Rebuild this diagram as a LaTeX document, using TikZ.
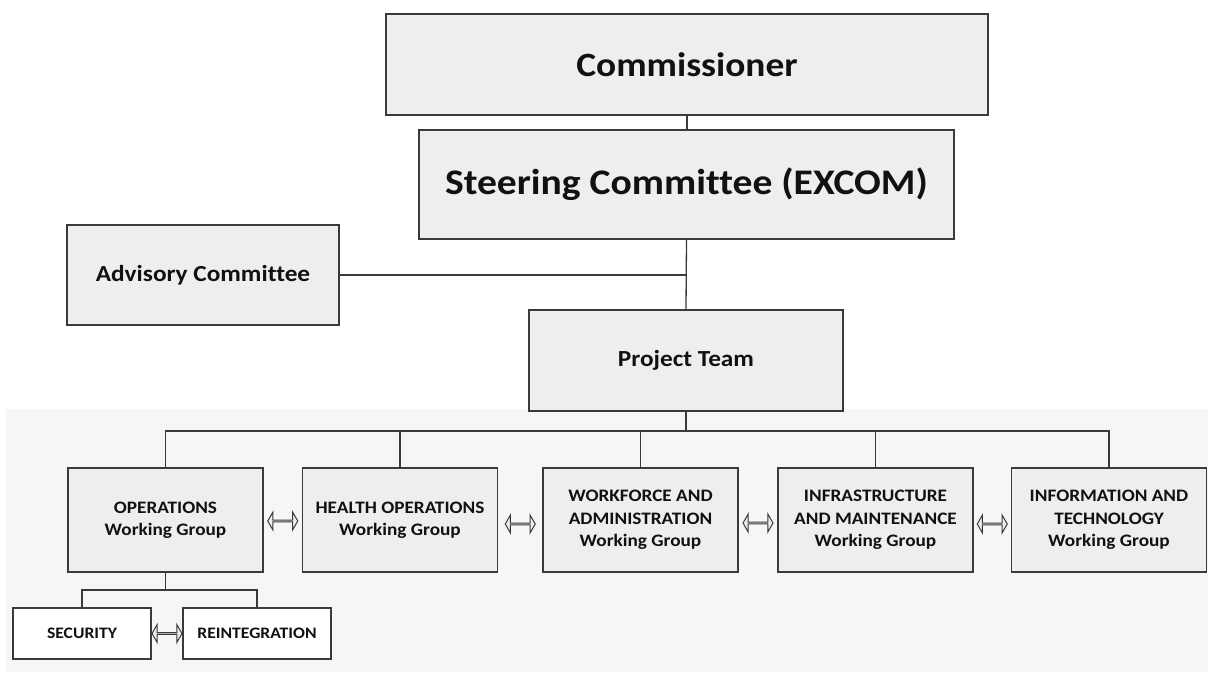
\documentclass[tikz,border=0pt]{standalone}
\usepackage{fontspec}
\setmainfont{Carlito}[FakeStretch=1.1, Ligatures=CommonOff]
\usetikzlibrary{calc,shapes.arrows}
\definecolor{boxfill}{HTML}{EEEEEE}
\definecolor{bgfill}{HTML}{F6F6F6}
\definecolor{linec}{HTML}{3A3A3A}
\definecolor{txt}{HTML}{111111}
\tikzset{
  orgbox/.style={draw=linec, line width=1.3pt, fill=boxfill, inner sep=0pt, align=center, text=txt},
  wgbox/.style={orgbox, minimum width=195pt, minimum height=104pt, font=\bfseries\fontsize{17.5}{22.5}\selectfont},
  subbox/.style={orgbox, fill=white, minimum height=51pt, font=\bfseries\fontsize{16}{20}\selectfont},
  conn/.style={draw=linec, line width=1.3pt},
  dblarrow/.style={double arrow, draw=linec, line width=1pt, fill=boxfill, minimum height=30pt, minimum width=18pt, double arrow head extend=4.5pt, double arrow head indent=0pt, double arrow tip angle=120, inner sep=0pt}
}
\begin{document}
\begin{tikzpicture}[x=1pt,y=-1pt]
\useasboundingbox (0,0) rectangle (1208,675);
\fill[bgfill] (6,409) rectangle (1208,672);

\node[orgbox, minimum width=602pt, minimum height=101pt, font=\bfseries\fontsize{34}{40}\selectfont] (comm) at (687,64.5) {Commissioner};
\node[orgbox, minimum width=535pt, minimum height=109pt, font=\bfseries\fontsize{36}{42}\selectfont] (steer) at (686.5,184.5) {Steering Committee (EXCOM)};
\node[orgbox, minimum width=272pt, minimum height=100pt, font=\bfseries\fontsize{23}{28}\selectfont] (adv) at (203,275) {Advisory Committee};
\node[orgbox, minimum width=314pt, minimum height=101pt, font=\bfseries\fontsize{23}{28}\selectfont] (proj) at (686,360.5) {Project Team};

\node[wgbox] (ops) at (165.5,520) {OPERATIONS\\Working Group};
\node[wgbox] (health) at (400,520) {HEALTH OPERATIONS\\Working Group};
\node[wgbox] (work) at (640.5,520) {WORKFORCE AND\\ADMINISTRATION\\Working Group};
\node[wgbox] (infra) at (875.5,520) {INFRASTRUCTURE\\AND MAINTENANCE\\Working Group};
\node[wgbox] (info) at (1109,520) {INFORMATION AND\\TECHNOLOGY\\Working Group};

\node[subbox, minimum width=138pt] (sec) at (82,633.5) {SECURITY};
\node[subbox, minimum width=148pt] (rei) at (257,633.5) {REINTEGRATION};

\coordinate (busy) at (0,431);
\coordinate (suby) at (0,590);

\draw[conn] (comm.south) -- (comm.south |- steer.north);
\draw[conn] (steer.south) -- (proj.north);
\draw[conn] (adv.east) -- (adv.east -| proj.north);
\draw[conn] (proj.south) -- (proj.south |- busy);
\draw[conn] (ops.north) -- (ops.north |- busy) -- (info.north |- busy) -- (info.north);
\draw[conn] (health.north) -- (health.north |- busy);
\draw[conn] (work.north) -- (work.north |- busy);
\draw[conn] (infra.north) -- (infra.north |- busy);
\draw[conn] (ops.south) -- (ops.south |- suby);
\draw[conn] (sec.north) -- (sec.north |- suby) -- (rei.north |- suby) -- (rei.north);

\node[dblarrow] (a1) at ($(ops.east)!0.5!(health.west)+(0,1)$) {};
\node[dblarrow] (a2) at ($(health.east)!0.5!(work.west)+(0,4)$) {};
\node[dblarrow] (a3) at ($(work.east)!0.5!(infra.west)+(0,3)$) {};
\node[dblarrow] (a4) at ($(infra.east)!0.5!(info.west)+(0,4)$) {};
\node[dblarrow] (a5) at ($(sec.east)!0.5!(rei.west)$) {};
\end{tikzpicture}
\end{document}
